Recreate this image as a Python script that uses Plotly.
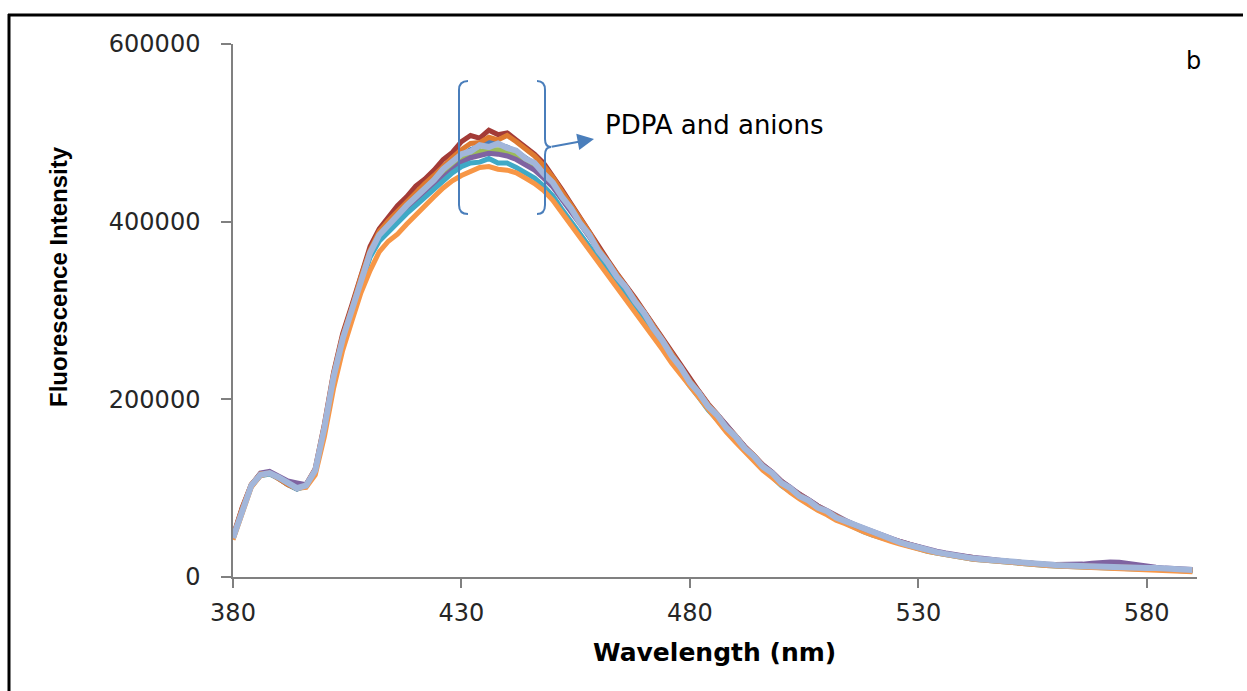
import plotly.graph_objects as go

# Wavelength grid (nm), 2 nm steps
wavelength = list(range(380, 592, 2))

# Fluorescence intensity values in thousands
s_blue = [44,76,102,115,117,112,105,100,103,119,
          166,223,267,299,334,364,384,396,406,416,
          426,436,446,457,466,474,481,485,490,487,
          484,479,472,465,455,443,428,414,398,384,
          367,353,338,325,310,296,280,265,249,235,
          219,206,192,181,168,157,145,135,124,116,
          106,99,91,85,78,73,67,62,58,53,
          49,45,42,38,35,33,30,28,26,24,
          22,21,20,19,18,17,16,15,14,13.5,
          13,12.5,12,12,11.5,11.5,11,11,10.5,10,
          10,9.5,9,8.5,8,7.5]
s_darkred = [46,78,104,116,118,111,104,99,104,122,
             172,230,274,306,340,372,392,405,418,428,
             440,448,458,470,478,490,497,494,503,498,
             500,492,484,476,466,452,436,420,404,389,
             371,357,342,329,314,299,284,268,252,238,
             222,209,195,183,170,160,147,137,126,118,
             108,100,93,86,80,74,68,63,59,54,
             50,46,43,39,36,33,31,28,26,25,
             23,22,20,19,18,17,16,15,14.5,14,
             13.5,13,13,12.5,12,12,11.5,11.5,11,10.5,
             10,10,9.5,9,8.5,8]
s_green = [43,75,103,116,118,112,105,100,102,119,
           167,224,267,299,333,362,382,394,404,414,
           424,433,443,453,462,470,475,479,481,481,
           479,475,469,462,452,441,427,413,398,384,
           368,354,339,326,312,297,282,266,250,236,
           221,207,193,182,169,158,146,136,125,117,
           107,100,92,86,79,74,68,63,58,54,
           50,46,42,39,36,33,30,28,26,24,
           23,21,20,19,18,17,16,15,14.5,14,
           13.5,13,12.5,12,12,11.5,11.5,11,11,10.5,
           10,10,9.5,9,8.5,8]
s_purple = [44,76,103,117,119,113,108,106,104,120,
            167,224,268,300,334,363,383,395,404,413,
            422,430,440,450,459,467,472,475,477,476,
            474,470,464,458,449,439,425,412,397,383,
            367,354,339,326,312,298,283,267,251,237,
            221,208,194,183,170,159,147,137,126,118,
            108,101,93,87,80,75,69,64,59,55,
            51,47,43,40,37,34,31,29,27,25,
            23,22,21,19.5,18.5,17.5,16.5,15.5,15,14.5,
            14,14,14,14.5,15.5,16.5,17,16.5,15,13,
            12,11,10,9.5,9,8.5]
s_cyan = [43,75,102,114,116,111,104,99,102,118,
          165,222,265,297,331,360,378,389,399,409,
          418,427,436,446,455,462,466,467,471,466,
          466,461,455,449,440,429,414,400,385,371,
          356,343,330,318,303,289,274,258,244,230,
          215,202,188,177,164,154,142,132,121,113,
          103,96,88,82,76,71,65,60,56,51,
          47,44,40,37,34,31,29,27,25,23,
          22,20,19,18,17,16,15,14,13.5,13,
          12.5,12,11.5,11,11,10.5,10,10,9.5,9,
          9,8.5,8,7.5,7,6.5]
s_orange = [42,73,101,114,117,112,104,100,101,115,
            158,212,255,288,320,345,366,378,386,397,
            408,417,428,438,446,452,456,461,462,459,
            458,455,449,443,435,424,410,396,382,368,
            354,340,327,314,300,286,271,256,241,228,
            213,200,187,175,163,152,141,131,120,112,
            103,95,88,81,75,70,64,60,55,51,
            47,43,40,37,34,31,29,27,25,23,
            21.5,20,19,18,17,16,15,14,13.5,13,
            12.5,12,11.5,11,10.5,10,10,9.5,9,8.5,
            8,8,7.5,7,6.5,6]
s_darkorange = [45,77,104,116,117,111,104,100,103,121,
                170,228,271,303,338,368,389,401,412,423,
                434,443,452,463,472,481,488,489,495,492,
                497,490,482,474,463,450,434,419,402,388,
                370,356,341,328,313,298,283,267,251,237,
                221,208,194,183,169,159,146,137,125,117,
                107,100,92,86,79,74,68,63,58,54,
                50,46,42,39,36,33,30,28,26,24,
                23,21,20,19,18,17,16,15,14.5,14,
                13.5,13,12.5,12,12,11.5,11.5,11,11,10.5,
                10,10,9.5,9,8.5,8]
s_lightblue = [44,76,103,115,117,112,105,100,103,120,
               168,225,268,300,335,365,385,397,407,418,
               427,438,447,459,467,476,479,486,484,488,
               483,480,471,466,454,444,428,415,398,385,
               367,354,338,326,310,297,280,266,249,236,
               219,207,192,182,168,158,145,136,124,117,
               106,100,91,86,78,74,67,63,58,54,
               50,46,42,39,36,33,30,28,26,24,
               23,21,20,19,18,17,16,15,14.5,14,
               13.5,13,12.5,12,12,11.5,11.5,11,11,10.5,
               10,10,9.5,9,8.5,8]

series = [
    (s_blue, "#4A7EBB", 5),
    (s_darkred, "#A33B37", 5),
    (s_green, "#9BBB59", 5),
    (s_purple, "#7F63A1", 5),
    (s_cyan, "#3FA9C6", 5),
    (s_orange, "#F79646", 5),
    (s_darkorange, "#DE7A30", 5),
    (s_lightblue, "#A2B6DA", 6),
]

x_ticks = [380, 430, 480, 530, 580]
y_ticks = [0, 200000, 400000, 600000]

fig = go.Figure()
for vals, col, w in series:
    fig.add_trace(go.Scatter(
        x=wavelength, y=[v * 1000 for v in vals], mode="lines",
        line=dict(color=col, width=w), showlegend=False, hoverinfo="skip"))

# plot-area geometry in pixels (for paper conversions of decorations)
L, R, T, B = 233, 1197, 44, 577
def px(x):
    return (x - L) / (R - L)
def py(y):
    return (B - y) / (B - T)

tick_font = dict(family="DejaVu Sans", size=24, color="#262626")
fig.update_layout(
    width=1247, height=691,
    margin=dict(l=L, r=1247 - R, t=T, b=691 - B),
    paper_bgcolor="white", plot_bgcolor="white",
    xaxis=dict(range=[380, 591], tickvals=x_ticks, ticktext=[str(t) for t in x_ticks],
               showgrid=False, zeroline=False, showline=True, linecolor="#808080",
               linewidth=1.5, ticks="outside", ticklen=9, tickwidth=1.5,
               tickcolor="#808080", tickfont=tick_font, ticklabelstandoff=4),
    yaxis=dict(range=[0, 600000], tickvals=y_ticks, ticktext=[str(t) for t in y_ticks],
               showgrid=False, zeroline=False, showline=True, linecolor="#808080",
               linewidth=1.5, ticks="outside", ticklen=10, tickwidth=1.5,
               tickcolor="#808080", tickfont=tick_font, ticklabelstandoff=16),
)

# outer frame (top and left edges)
fig.add_shape(type="line", xref="paper", yref="paper", x0=px(9), x1=px(9),
              y0=py(14), y1=py(700), line=dict(color="black", width=3))
fig.add_shape(type="line", xref="paper", yref="paper", x0=px(8), x1=px(1243),
              y0=py(15), y1=py(15), line=dict(color="black", width=3))

bc = "#4A7EBB"
def P(x, y):
    return f"{px(x)},{py(y)}"
left_br = (f"M {P(468,81)} Q {P(459,81)} {P(459,90)} L {P(459,205)} "
           f"Q {P(459,214)} {P(468,214)}")
right_br = (f"M {P(537,81)} Q {P(545,81)} {P(545,90)} L {P(545,139)} "
            f"Q {P(545,147)} {P(551,147)} Q {P(545,147)} {P(545,155)} "
            f"L {P(545,205)} Q {P(545,214)} {P(537,214)}")
for p in (left_br, right_br):
    fig.add_shape(type="path", xref="paper", yref="paper", path=p,
                  line=dict(color=bc, width=2))

fig.add_annotation(xref="paper", yref="paper", x=px(594), y=py(139),
                   ax=-44, ay=8, showarrow=True, arrowhead=2, arrowsize=1.5,
                   arrowwidth=2.2, arrowcolor=bc, text="")
fig.add_annotation(xref="paper", yref="paper", x=px(603), y=py(125),
                   xanchor="left", yanchor="middle", showarrow=False,
                   text="PDPA and anions",
                   font=dict(family="DejaVu Sans", size=26, color="black"))
fig.add_annotation(xref="paper", yref="paper", x=px(1193), y=py(61),
                   xanchor="center", yanchor="middle", showarrow=False,
                   text="b", font=dict(family="DejaVu Sans", size=24, color="black"))
fig.add_annotation(xref="paper", yref="paper", x=px(714), y=py(652),
                   xanchor="center", yanchor="middle", showarrow=False,
                   text="<b>Wavelength (nm)</b>",
                   font=dict(family="DejaVu Sans", size=25, color="black"))
fig.add_annotation(xref="paper", yref="paper", x=px(58), y=py(277),
                   xanchor="center", yanchor="middle", showarrow=False, textangle=-90,
                   text="<b>Fluorescence Intensity</b>",
                   font=dict(family="Liberation Sans", size=24, color="black"))

fig.write_html("out.html")
